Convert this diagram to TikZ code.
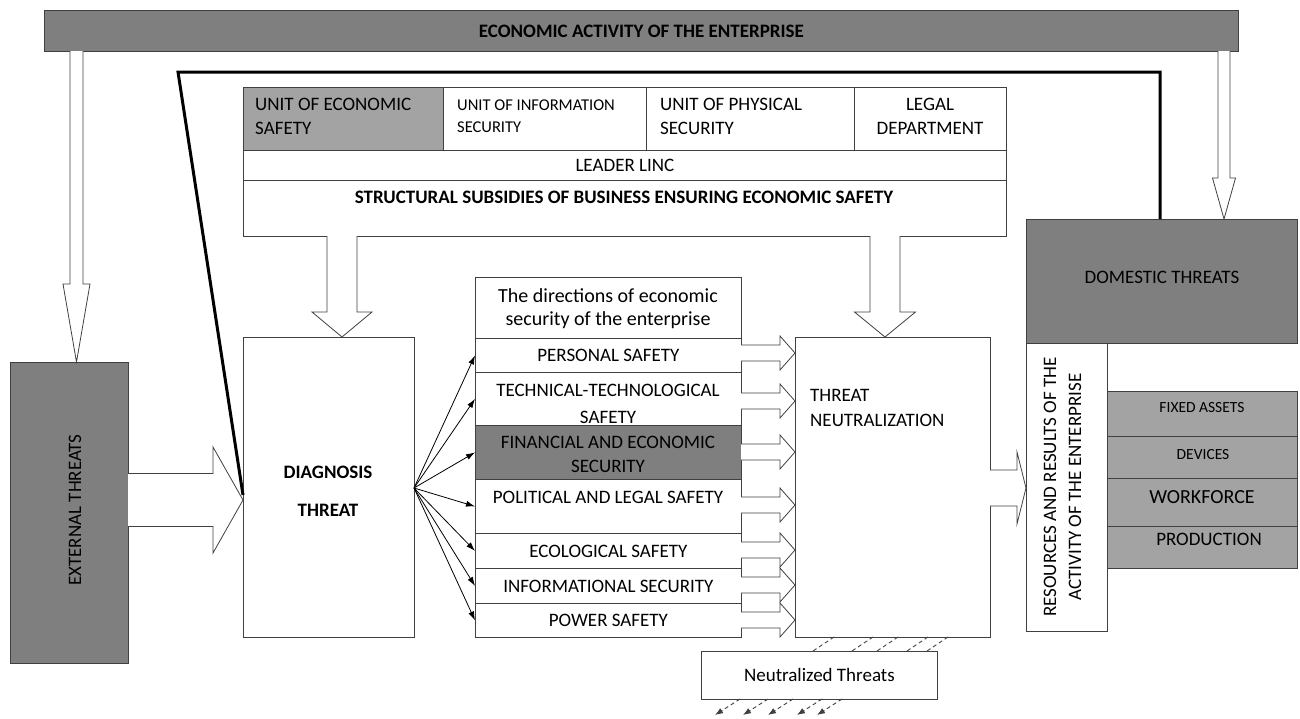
\documentclass[tikz,border=0pt]{standalone}
\usepackage{fontspec}
\setmainfont{Carlito}
\usetikzlibrary{arrows.meta,calc}
\definecolor{dg}{HTML}{7F7F7F}
\definecolor{lg}{HTML}{A3A3A3}
\definecolor{bd}{HTML}{404040}
\newcommand\fsz[1]{\fontsize{#1}{#1}\selectfont}
\newcommand\harrow[6]{\filldraw[harr] (#1,#3-#4) -- (#2-#6,#3-#4) -- (#2-#6,#3-#5) -- (#2,#3) -- (#2-#6,#3+#5) -- (#2-#6,#3+#4) -- (#1,#3+#4);}
\newcommand\varrow[6]{\filldraw[harr] (#1-#4,#2) -- (#1-#4,#3-#6) -- (#1-#5,#3-#6) -- (#1,#3) -- (#1+#5,#3-#6) -- (#1+#4,#3-#6) -- (#1+#4,#2);}
\tikzset{
  box/.style={draw=bd, line width=0.8pt, rectangle, inner sep=0pt, anchor=north west, fill=white},
  txt/.style={inner sep=0pt, font=\fsz{19}, text=black},
  btxt/.style={inner sep=0pt, font=\fsz{19}\bfseries, text=black},
  harr/.style={draw=bd, line width=0.8pt, fill=white, line join=miter},
  fanarr/.style={draw=black, line width=0.8pt, -{Latex[length=9pt,width=6pt]}},
  thick line/.style={draw=black, line width=3pt, line join=miter},
  dsh/.style={draw=bd, line width=0.9pt, dash pattern=on 4pt off 3pt},
  dsharr/.style={dsh, -{Latex[length=8pt,width=6pt]}}
}
\begin{document}
\begin{tikzpicture}[x=1pt,y=-1pt]
\useasboundingbox (0,0) rectangle (1300,718);

% top bar
\node[box, fill=dg, minimum width=1194, minimum height=41, font=\fsz{19}\bfseries, text=black] (top) at (44,10) {ECONOMIC ACTIVITY OF THE ENTERPRISE};

% thick feedback line
\coordinate (tk) at (243,495);
\coordinate (tl) at (178,72);
\coordinate (tr) at (1160,72);

% structure box
\node[box, fill=lg, minimum width=200, minimum height=63] (c1) at (243,87) {};
\node[box, minimum width=203, minimum height=63] (c2) at (443,87) {};
\node[box, minimum width=208, minimum height=63] (c3) at (646,87) {};
\node[box, minimum width=152, minimum height=63] (c4) at (854,87) {};
\node[box, minimum width=763, minimum height=30, font=\fsz{19}, text=black] (leader) at (243,150) {LEADER LINC};
\node[box, minimum width=763, minimum height=56] (struct) at (243,180) {};
\node[txt, anchor=west] (c1a) at (255,104) {UNIT OF ECONOMIC};
\node[txt, anchor=west] (c1b) at (255,128) {SAFETY};
\node[txt, anchor=west, font=\fsz{16.5}] (c2a) at (457,105) {UNIT OF INFORMATION};
\node[txt, anchor=west, font=\fsz{16.5}] (c2b) at (457,127) {SECURITY};
\node[txt, anchor=west] (c3a) at (660,104) {UNIT OF PHYSICAL};
\node[txt, anchor=west] (c3b) at (660,128) {SECURITY};
\node[txt] (c4a) at (930,104) {LEGAL};
\node[txt] (c4b) at (930,128) {DEPARTMENT};
\node[btxt] (structt) at (624,197) {STRUCTURAL SUBSIDIES OF BUSINESS ENSURING ECONOMIC SAFETY};

% external threats
\node[box, fill=dg, minimum width=118, minimum height=301] (ext) at (10,362) {};
\node[txt, rotate=90] (extt) at (75,510) {EXTERNAL THREATS};

% diagnosis
\node[box, minimum width=171, minimum height=300] (diag) at (243,337) {};
\node[btxt] (diag1) at (328,472) {DIAGNOSIS};
\node[btxt] (diag2) at (328,510) {THREAT};

% directions column
\node[box, minimum width=266, minimum height=61] (hdr) at (475,277) {};
\node[txt, font=\fsz{20}] (hdr1) at (608,296) {The directions of economic};
\node[txt, font=\fsz{20}] (hdr2) at (608,320) {security of the enterprise};
\node[box, minimum width=266, minimum height=34, font=\fsz{19}, text=black] (pers) at (475,338) {PERSONAL SAFETY};
\node[box, minimum width=266, minimum height=53] (tech) at (475,372) {};
\node[txt] (tech1) at (608,390) {TECHNICAL-TECHNOLOGICAL};
\node[txt] (tech2) at (608,417.5) {SAFETY};
\node[box, fill=dg, minimum width=266, minimum height=54] (fin) at (475,425) {};
\node[txt] (fin1) at (608,442) {FINANCIAL AND ECONOMIC};
\node[txt] (fin2) at (608,466) {SECURITY};
\node[box, minimum width=266, minimum height=54] (pol) at (475,479) {};
\node[txt] (polt) at (608,497) {POLITICAL AND LEGAL SAFETY};
\node[box, minimum width=266, minimum height=35, font=\fsz{19}, text=black] (eco) at (475,533) {ECOLOGICAL SAFETY};
\node[box, minimum width=266, minimum height=35, font=\fsz{19}, text=black] (inf) at (475,568) {INFORMATIONAL SECURITY};
\node[box, minimum width=266, minimum height=34, font=\fsz{19}, text=black] (pow) at (475,603) {POWER SAFETY};

% neutralization
\node[box, minimum width=195, minimum height=300] (neut) at (795,337) {};
\node[txt, anchor=west] (neut1) at (810,395) {THREAT};
\node[txt, anchor=west] (neut2) at (810,420) {NEUTRALIZATION};
\node[box, minimum width=236, minimum height=48, font=\fsz{19}, text=black] (ntd) at (701,651) {Neutralized Threats};

% domestic threats & resources
\node[box, fill=dg, minimum width=271, minimum height=124] (dom) at (1026,219) {};
\node[txt] (domt) at (1162,277) {DOMESTIC THREATS};
\node[box, minimum width=81, minimum height=288] (res) at (1026,343) {};
\node[txt, rotate=90] (res1) at (1050,487) {RESOURCES AND RESULTS OF THE};
\node[txt, rotate=90] (res2) at (1075,487) {ACTIVITY OF THE ENTERPRISE};
\node[box, fill=lg, minimum width=190, minimum height=45] (fa) at (1107,391) {};
\node[box, fill=lg, minimum width=190, minimum height=42] (dev) at (1107,436) {};
\node[box, fill=lg, minimum width=190, minimum height=48] (wf) at (1107,478) {};
\node[box, fill=lg, minimum width=190, minimum height=42] (prod) at (1107,526) {};
\node[txt, font=\fsz{15.5}] (fat) at (1202,408) {FIXED ASSETS};
\node[txt, font=\fsz{15.5}] (devt) at (1203,455) {DEVICES};
\node[txt, font=\fsz{20}] (wft) at (1202,497) {WORKFORCE};
\node[txt] (prodt) at (1209,539) {PRODUCTION};

% thick line
\draw[thick line] (tk) -- (tl) -- (tr) -- (tr |- dom.north);

% hollow arrows
\varrow{76.5}{51}{362}{6.5}{13.5}{78}
\varrow{1224}{51}{219}{6}{11.5}{41}
\varrow{342}{236}{337}{15}{30}{25}
\varrow{885}{236}{337}{15}{30.5}{25}
\harrow{128}{243}{500}{26.5}{53}{30}
\harrow{741}{795}{353}{8}{17}{15}
\harrow{741}{795}{401}{8}{17}{15}
\harrow{741}{795}{452}{8}{17}{15}
\harrow{741}{795}{505}{8}{17}{15}
\harrow{741}{795}{550}{8}{17}{15}
\harrow{741}{795}{585}{8}{17}{15}
\harrow{741}{795}{620}{8}{17}{15}
\harrow{990}{1026}{488}{18}{36}{9}

% fan arrows
\coordinate (fan) at (414,488);
\foreach \t in {pers,tech,fin,pol,eco,inf,pow}
  \draw[fanarr] (fan) -- (\t.west);

% dashed lines to neutralized threats
\foreach \x in {813,852,877,907,927}
  \draw[dsh] (\x+21,637) -- (\x,651);
\foreach \x in {715,743,768,797,817}
  \draw[dsharr] (\x+25,699) -- (\x,715);
\end{tikzpicture}
\end{document}
